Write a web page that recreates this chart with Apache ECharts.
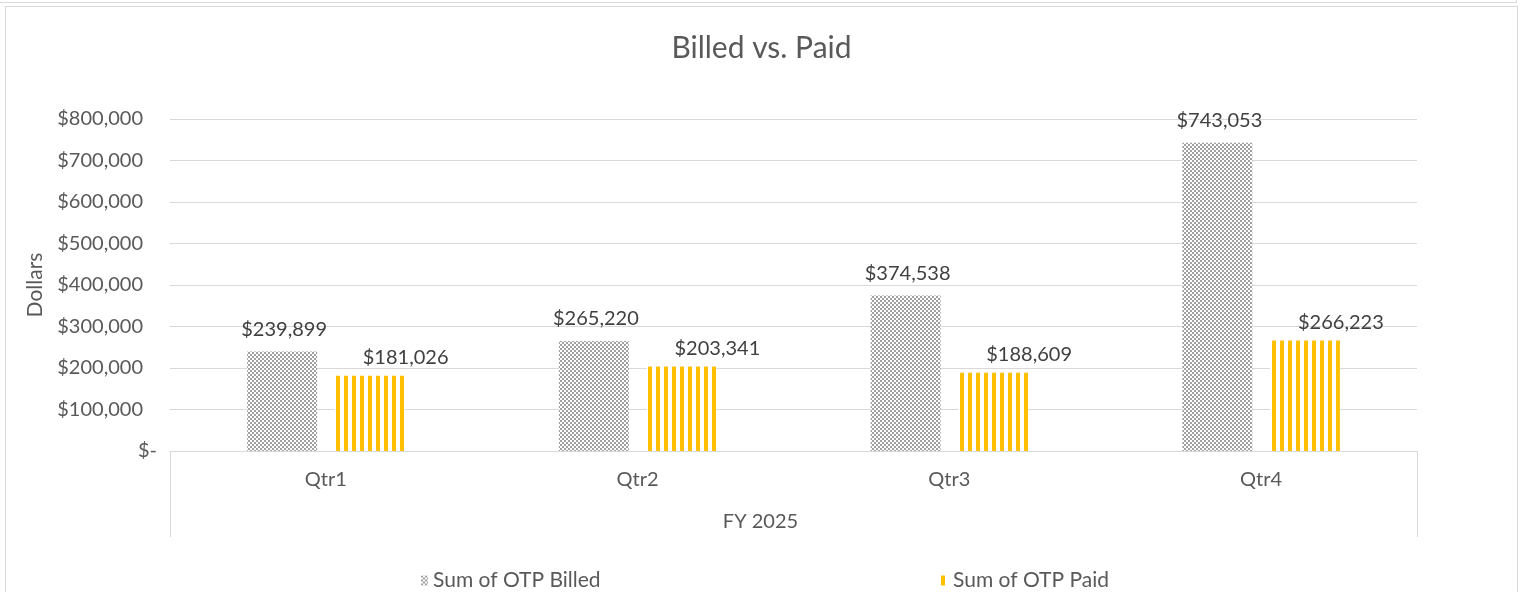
<!DOCTYPE html>
<html>
<head>
<meta charset="utf-8">
<script src="https://cdn.jsdelivr.net/npm/echarts@6/dist/echarts.min.js"></script>
<style>
  html, body { margin: 0; padding: 0; background: #fff; overflow: hidden; }
  #topStrip { position: absolute; left: 0; top: 0; width: 1516px; height: 2px; border-bottom: 1px solid #d9d9d9; border-right: 1px solid #d9d9d9; }
  #frame { position: absolute; left: 5px; top: 6px; width: 1511px; height: 620px; border: 1px solid #d9d9d9; }
  #main { position: absolute; left: 0; top: 0; width: 1523px; height: 592px; }
</style>
</head>
<body>
<div id="topStrip"></div>
<div id="frame"></div>
<div id="main"></div>
<script>
const quarters = ['Qtr1', 'Qtr2', 'Qtr3', 'Qtr4'];
const fiscalYear = ['FY 2025'];
const billed = [239899, 265220, 374538, 743053];
const paid = [181026, 203341, 188609, 266223];
const yMin = 0;
const yMax = 800000;
const yStep = 100000;

// checker pattern for billed
function checker() {
  const c = document.createElement('canvas');
  c.width = 4; c.height = 4;
  const g = c.getContext('2d');
  g.fillStyle = '#ffffff';
  g.fillRect(0, 0, 4, 4);
  g.fillStyle = '#a0a0a0';
  g.fillRect(0, 0, 2, 2);
  g.fillRect(2, 2, 2, 2);
  return c;
}
// vertical stripes for paid
function stripes() {
  const c = document.createElement('canvas');
  c.width = 8; c.height = 4;
  const g = c.getContext('2d');
  g.fillStyle = '#ffffff';
  g.fillRect(0, 0, 8, 4);
  g.fillStyle = '#ffc000';
  g.fillRect(0, 0, 4, 4);
  return c;
}

const money = v => '$' + v.toLocaleString('en-US');
const font = 'Lato';

const chart = echarts.init(document.getElementById('main'));
chart.setOption({
  textStyle: { fontFamily: font },
  title: {
    text: 'Billed vs. Paid',
    left: 'center',
    top: 28,
    textStyle: { fontFamily: font, fontSize: 30, fontWeight: 'normal', color: '#595959' }
  },
  legend: [
    {
      data: ['Sum of OTP Billed'],
      left: 416, top: 565,
      icon: 'rect', itemWidth: 7, itemHeight: 10,
      textStyle: { fontFamily: font, fontSize: 21, color: '#595959' }
    },
    {
      data: ['Sum of OTP Paid'],
      left: 936, top: 565,
      icon: 'rect', itemWidth: 7, itemHeight: 10,
      textStyle: { fontFamily: font, fontSize: 21, color: '#595959' }
    }
  ],
  grid: { left: 170, right: 106, top: 119, bottom: 141 },
  xAxis: [
    {
      type: 'category',
      data: quarters,
      axisLine: { lineStyle: { color: '#d9d9d9', width: 1 } },
      axisTick: { show: false },
      axisLabel: { margin: 19, fontSize: 20, color: '#595959', fontFamily: font }
    },
    {
      type: 'category',
      data: fiscalYear,
      position: 'bottom',
      axisLine: { show: false },
      axisTick: { show: true, length: 86, lineStyle: { color: '#d9d9d9' } },
      axisLabel: {
        margin: 61,
        formatter: '{f|{value}}',
        rich: { f: { fontSize: 20, color: '#595959', fontFamily: font, padding: [0, 66, 0, 0] } }
      }
    }
  ],
  yAxis: {
    type: 'value',
    min: yMin, max: yMax, interval: yStep,
    name: 'Dollars',
    nameLocation: 'middle',
    nameGap: 124,
    nameTextStyle: { fontSize: 21, color: '#595959', fontFamily: font },
    axisLine: { show: false },
    axisTick: { show: false },
    splitLine: { lineStyle: { color: '#d9d9d9', width: 1 } },
    axisLabel: {
      margin: 13,
      formatter: v => v === 0 ? '{z|$-}' : '{a|' + money(v) + '}',
      rich: {
        a: { fontSize: 20, color: '#595959', fontFamily: font, padding: [0, 14, 0, 0] },
        z: { fontSize: 20, color: '#595959', fontFamily: font }
      }
    }
  },
  series: [
    {
      name: 'Sum of OTP Billed',
      type: 'bar',
      data: billed,
      barWidth: 70,
      barGap: '25%',
      itemStyle: { color: { image: checker(), repeat: 'repeat' } },
      label: {
        show: true, position: 'top', distance: 12, offset: [2, 0],
        fontSize: 20, color: '#404040', fontFamily: font,
        formatter: p => money(p.value)
      }
    },
    {
      name: 'Sum of OTP Paid',
      type: 'bar',
      data: paid,
      barWidth: 70,
      barGap: '25%',
      itemStyle: { color: { image: stripes(), repeat: 'repeat' } },
      label: {
        show: true, position: 'top', distance: 8, offset: [36, 0],
        fontSize: 20, color: '#404040', fontFamily: font,
        formatter: p => money(p.value)
      }
    }
  ]
});
</script>
</body>
</html>
